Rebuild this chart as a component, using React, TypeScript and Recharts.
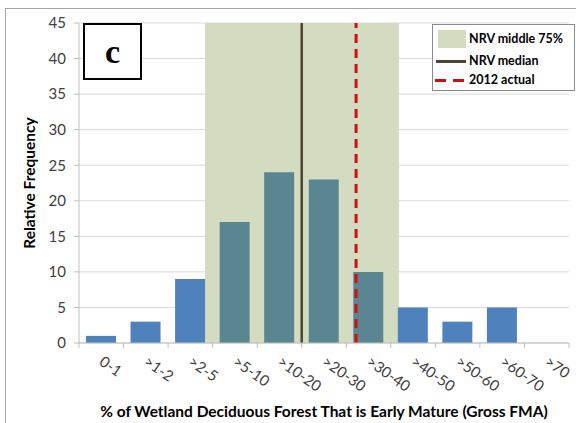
import React from 'react';
import { BarChart, Bar, XAxis, YAxis, CartesianGrid, ReferenceArea, ReferenceLine, Cell } from 'recharts';

const categories = ['0-1', '>1-2', '>2-5', '>5-10', '>10-20', '>20-30', '>30-40', '>40-50', '>50-60', '>60-70', '>70'];
const frequencies = [1, 3, 9, 17, 24, 23, 10, 5, 3, 5, 0];
const yTicks = [0, 5, 10, 15, 20, 25, 30, 35, 40, 45];
const xBoundaryTicks = [0, 1, 2, 3, 4, 5, 6, 7, 8, 9, 10, 11];
// positions in category-index units along the x axis
const nrvLow = 2.83;
const nrvHigh = 7.18;
const nrvMedian = 5.0;
const actual2012 = 6.22;
const legendLabels = ['NRV middle 75%', 'NRV median', '2012 actual'];

const data = categories.map((c, i) => ({ cat: c, freq: frequencies[i], pos: i + 0.5 }));

const BLUE = '#4F81BD';
const TEAL = '#5A8691';
const SHADE = '#D3DCC1';
const MEDIAN = '#4D4530';
const RED = '#D01010';

const W = 576;
const H = 423;
const LEFT = 79;
const RIGHT = 7;
const HALF = (W - LEFT - RIGHT) / categories.length / 2;

const XTick = (props: any) => {
  const { x, y, payload } = props;
  const label = categories[payload.value];
  if (label === undefined) return <g />;
  const lx = x + HALF - 3;
  const ly = y + 14;
  return (
    <text
      x={lx}
      y={ly}
      transform={`rotate(35, ${lx}, ${ly})`}
      textAnchor="start"
      fontSize={15}
      fill="#404040"
      fontFamily="Lato"
    >
      {label}
    </text>
  );
};

export default function App() {
  return (
    <div style={{ position: 'absolute', left: 0, top: 0, width: W, height: H, overflow: 'hidden', background: '#fff' }}>
      <div style={{ position: 'absolute', left: 5, top: 8, width: 700, height: 600, border: '1px solid #A6A6A6' }} />
      <BarChart
        width={W}
        height={H}
        data={data}
        margin={{ top: 23, right: RIGHT, bottom: 0, left: 0 }}
        style={{ fontFamily: 'Lato' }}
      >
        <ReferenceArea x1={nrvLow} x2={nrvHigh} fill={SHADE} fillOpacity={1} stroke="none" />
        <CartesianGrid vertical={false} stroke="#D9D9D9" />
        <XAxis
          dataKey="pos"
          type="number"
          domain={[0, categories.length]}
          ticks={xBoundaryTicks}
          interval={0}
          allowDataOverflow
          height={80}
          tickSize={5}
          tickLine={{ stroke: '#BFBFBF' }}
          axisLine={{ stroke: '#BFBFBF' }}
          tick={<XTick />}
          label={{
            value: '% of Wetland Deciduous Forest That is Early Mature (Gross FMA)',
            position: 'insideBottom',
            offset: 6,
            style: { fontWeight: 'bold', fontSize: 15.5, fill: '#000' },
          }}
        />
        <YAxis
          width={LEFT}
          domain={[0, 45]}
          ticks={yTicks}
          interval={0}
          tickSize={5}
          tickMargin={8}
          axisLine={{ stroke: '#BFBFBF' }}
          tickLine={{ stroke: '#BFBFBF' }}
          tick={{ fontSize: 15, fill: '#404040' }}
          label={{
            value: 'Relative Frequency',
            angle: -90,
            position: 'center',
            dx: -10,
            style: { fontWeight: 'bold', fontSize: 15.5, fill: '#000', textAnchor: 'middle' },
          }}
        />
        <Bar dataKey="freq" barSize={30} isAnimationActive={false}>
          {data.map((d) => (
            <Cell key={d.cat} fill={d.pos > nrvLow && d.pos < nrvHigh ? TEAL : BLUE} />
          ))}
        </Bar>
        <ReferenceLine x={nrvMedian} stroke={MEDIAN} strokeWidth={2.5} />
        <ReferenceLine x={actual2012} stroke={RED} strokeWidth={3} strokeDasharray="9 6" />
      </BarChart>
      <div
        style={{
          position: 'absolute',
          left: 83,
          top: 23,
          width: 55,
          height: 53,
          border: '2px solid #000',
          background: '#fff',
          display: 'flex',
          alignItems: 'center',
          justifyContent: 'center',
          fontFamily: '"Liberation Serif", serif',
          fontWeight: 'bold',
          fontSize: 34,
          lineHeight: 1,
        }}
      >
        c
      </div>
      <div
        style={{
          position: 'absolute',
          left: 432,
          top: 24,
          width: 141,
          height: 65,
          border: '1px solid #8C8C8C',
          background: '#fff',
          fontFamily: 'Lato',
          fontWeight: 'bold',
          fontSize: 12.5,
          color: '#000',
        }}
      >
        <div style={{ position: 'absolute', left: 5, top: 5, width: 28, height: 18, background: SHADE }} />
        <div style={{ position: 'absolute', left: 36, top: 6, whiteSpace: 'nowrap' }}>{legendLabels[0]}</div>
        <div style={{ position: 'absolute', left: 3, top: 35, width: 30, height: 3, background: MEDIAN }} />
        <div style={{ position: 'absolute', left: 36, top: 28, whiteSpace: 'nowrap' }}>{legendLabels[1]}</div>
        <div style={{ position: 'absolute', left: 2, top: 54, width: 11, height: 3, background: RED }} />
        <div style={{ position: 'absolute', left: 20, top: 54, width: 11, height: 3, background: RED }} />
        <div style={{ position: 'absolute', left: 36, top: 47, whiteSpace: 'nowrap' }}>{legendLabels[2]}</div>
      </div>
    </div>
  );
}
